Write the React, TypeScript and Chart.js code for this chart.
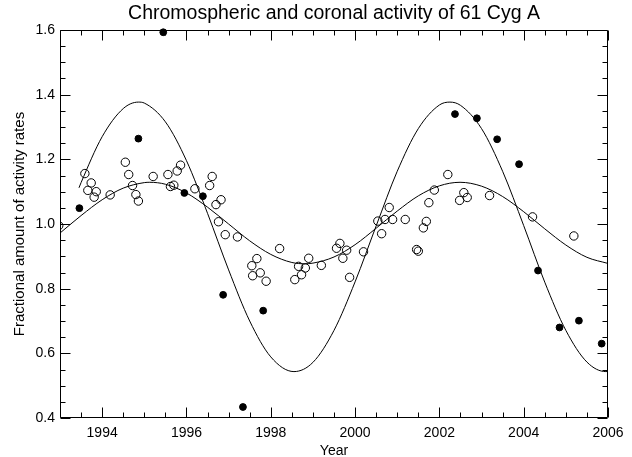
import React, { useEffect, useRef } from 'react';
import { Chart, registerables } from 'chart.js';

Chart.register(...registerables);

// ---- texts ----
const titleText = 'Chromospheric and coronal activity of 61 Cyg A';
const xAxisTitle = 'Year';
const yAxisTitle = 'Fractional amount of activity rates';

// ---- axes ----
const xRange = [1993, 2006];
const yRange = [0.4, 1.6];
const xTickValues = [1994, 1996, 1998, 2000, 2002, 2004, 2006];
const yTickValues = [0.4, 0.6, 0.8, 1.0, 1.2, 1.4, 1.6];
const xMinorStep = 0.5;
const yMinorStep = 0.05;

// ---- open circles (chromospheric data) ----
const openYears = [
  1992.97, 1993.59, 1993.74, 1993.66, 1993.86, 1993.81, 1994.19, 1994.55, 1994.63, 1994.72,
  1994.80, 1994.86, 1995.21, 1995.56, 1995.62, 1995.70, 1995.78, 1995.86, 1996.20, 1996.55,
  1996.61, 1996.70, 1996.82, 1996.76, 1996.92, 1997.21, 1997.55, 1997.57, 1997.67, 1997.75,
  1997.89, 1998.21, 1998.57, 1998.66, 1998.73, 1998.82, 1998.90, 1999.20, 1999.56, 1999.64,
  1999.71, 1999.80, 1999.87, 2000.20, 2000.54, 2000.63, 2000.71, 2000.81, 2000.89, 2001.19,
  2001.46, 2001.50, 2001.62, 2001.69, 2001.75, 2001.88, 2002.20, 2002.48, 2002.58, 2002.66,
  2003.19, 2004.21, 2005.19,
];
const openValues = [
  0.995, 1.156, 1.127, 1.104, 1.100, 1.083, 1.090, 1.191, 1.153, 1.119,
  1.091, 1.071, 1.147, 1.153, 1.116, 1.120, 1.164, 1.182, 1.109, 1.119,
  1.147, 1.060, 1.075, 1.007, 0.967, 0.960, 0.871, 0.840, 0.893, 0.849,
  0.823, 0.924, 0.828, 0.869, 0.843, 0.864, 0.894, 0.872, 0.925, 0.940,
  0.894, 0.919, 0.835, 0.914, 1.009, 0.970, 1.014, 1.051, 1.014, 1.014,
  0.921, 0.916, 0.988, 1.008, 1.066, 1.105, 1.153, 1.073, 1.097, 1.082,
  1.088, 1.022, 0.963,
];

// ---- filled circles (coronal data) ----
const filledYears = [
  1993.46, 1994.86, 1995.45, 1995.95, 1996.39, 1996.87, 1997.34, 1997.82,
  2002.37, 2002.89, 2003.37, 2003.89, 2004.34, 2004.85, 2005.31, 2005.85,
];
const filledValues = [
  1.049, 1.264, 1.593, 1.096, 1.086, 0.781, 0.434, 0.732,
  1.340, 1.327, 1.262, 1.185, 0.856, 0.680, 0.701, 0.630,
];

// ---- large-amplitude fitted cycle ----
const bigFitYears = [
  1993.45, 1993.5, 1994, 1994.5, 1994.86, 1995, 1995.5, 1996, 1996.5, 1997,
  1997.5, 1998, 1998.55, 1999, 1999.5, 2000, 2000.5, 2001, 2001.5, 2002,
  2002.25, 2002.5, 2003, 2003.5, 2004, 2004.5, 2005, 2005.5, 2005.95, 2006,
];
const bigFitValues = [
  1.112, 1.128, 1.270, 1.357, 1.377, 1.374, 1.316, 1.196, 1.033, 0.858,
  0.700, 0.589, 0.5435, 0.572, 0.671, 0.821, 0.994, 1.163, 1.295, 1.368,
  1.377, 1.367, 1.295, 1.163, 0.995, 0.820, 0.671, 0.573, 0.5435, 0.544,
];

// ---- small-amplitude fitted cycle ----
const smallFitYears = [
  1993, 1993.5, 1994, 1994.5, 1995, 1995.13, 1995.5, 1996, 1996.5, 1997,
  1997.5, 1998, 1998.5, 1998.81, 1999, 1999.5, 2000, 2000.5, 2001, 2001.5,
  2002, 2002.49, 2003, 2003.5, 2004, 2004.5, 2005, 2005.5, 2006,
];
const smallFitValues = [
  0.972, 1.026, 1.075, 1.111, 1.128, 1.129, 1.123, 1.096, 1.052, 1.000,
  0.948, 0.906, 0.881, 0.877, 0.879, 0.898, 0.936, 0.987, 1.040, 1.087,
  1.118, 1.129, 1.117, 1.085, 1.038, 0.985, 0.935, 0.897, 0.878,
];

const FONT = "'Liberation Sans', Arial, sans-serif";
const INK = '#000000';

const zip = (xs: number[], ys: number[]) => xs.map((x, i) => ({ x, y: ys[i] }));

// Draws the IDL-style box with inward ticks on all four sides.
const frameTicks = {
  id: 'frameTicks',
  afterDraw(chart: any) {
    const { ctx, chartArea, scales } = chart;
    const xs = scales.x;
    const ys = scales.y;
    const L = Math.round(chartArea.left) + 0.5;
    const R = Math.round(chartArea.right) - 0.5;
    const T = Math.round(chartArea.top) + 0.5;
    const B = Math.round(chartArea.bottom) - 0.5;
    ctx.save();
    ctx.strokeStyle = INK;
    ctx.lineWidth = 1;
    ctx.beginPath();
    ctx.rect(L, T, R - L, B - T);
    ctx.stroke();
    const majorLen = 10;
    const minorLen = 5;
    ctx.beginPath();
    const nx = Math.round((xRange[1] - xRange[0]) / xMinorStep);
    for (let i = 0; i <= nx; i++) {
      const v = xRange[0] + i * xMinorStep;
      const isMajor = xTickValues.some((t) => Math.abs(t - v) < 1e-6);
      const len = isMajor ? majorLen : minorLen;
      const px = Math.round(xs.getPixelForValue(v)) + 0.5;
      ctx.moveTo(px, B);
      ctx.lineTo(px, B - len);
      ctx.moveTo(px, T);
      ctx.lineTo(px, T + len);
    }
    const ny = Math.round((yRange[1] - yRange[0]) / yMinorStep);
    for (let i = 0; i <= ny; i++) {
      const v = yRange[0] + i * yMinorStep;
      const isMajor = yTickValues.some((t) => Math.abs(t - v) < 1e-6);
      const len = isMajor ? majorLen : minorLen;
      const py = Math.round(ys.getPixelForValue(v)) + 0.5;
      ctx.moveTo(L, py);
      ctx.lineTo(L + len, py);
      ctx.moveTo(R, py);
      ctx.lineTo(R - len, py);
    }
    ctx.stroke();
    ctx.restore();
  },
};

export default function App() {
  const canvasRef = useRef<HTMLCanvasElement>(null);

  useEffect(() => {
    document.body.style.margin = '0';
    const canvas = canvasRef.current;
    if (!canvas) return;
    const chart = new Chart(canvas, {
      type: 'scatter',
      data: {
        datasets: [
          {
            label: 'Coronal cycle fit',
            data: zip(bigFitYears, bigFitValues),
            showLine: true,
            borderColor: INK,
            borderWidth: 1,
            pointRadius: 0,
            cubicInterpolationMode: 'monotone',
            fill: false,
          },
          {
            label: 'Chromospheric cycle fit',
            data: zip(smallFitYears, smallFitValues),
            showLine: true,
            borderColor: INK,
            borderWidth: 1,
            pointRadius: 0,
            cubicInterpolationMode: 'monotone',
            fill: false,
          },
          {
            label: 'Chromospheric activity',
            data: zip(openYears, openValues),
            showLine: false,
            pointStyle: 'circle',
            pointRadius: 4.2,
            pointBorderWidth: 1,
            pointBorderColor: INK,
            pointBackgroundColor: 'rgba(0,0,0,0)',
            borderColor: INK,
            backgroundColor: 'rgba(0,0,0,0)',
          },
          {
            label: 'Coronal activity',
            data: zip(filledYears, filledValues),
            showLine: false,
            pointStyle: 'circle',
            pointRadius: 3.4,
            pointBorderWidth: 1,
            pointBorderColor: INK,
            pointBackgroundColor: INK,
            borderColor: INK,
            backgroundColor: INK,
            clip: false,
          },
        ],
      } as any,
      options: {
        responsive: false,
        animation: false,
        events: [],
        layout: { padding: { left: 0, right: 24, top: 0, bottom: 0 } },
        plugins: {
          legend: { display: false },
          tooltip: { enabled: false },
          title: {
            display: true,
            fullSize: false,
            text: titleText,
            color: INK,
            font: { family: FONT, size: 19.5, weight: 'normal', lineHeight: 1.2 },
            padding: { top: 2.3, bottom: 4.3 },
          },
        },
        scales: {
          x: {
            type: 'linear',
            min: xRange[0],
            max: xRange[1],
            afterBuildTicks: (s: any) => {
              s.ticks = xTickValues.map((v) => ({ value: v }));
            },
            afterFit: (s: any) => {
              s.height = 39;
            },
            grid: { display: false, drawTicks: false },
            border: { display: false },
            ticks: {
              color: INK,
              font: { family: FONT, size: 14 },
              padding: 7,
              maxRotation: 0,
              autoSkip: false,
              callback: (v: any) => String(v),
            },
            title: {
              display: true,
              text: xAxisTitle,
              color: INK,
              font: { family: FONT, size: 14, lineHeight: 1 },
              padding: { top: 0, bottom: -1 },
            },
          },
          y: {
            type: 'linear',
            min: yRange[0],
            max: yRange[1],
            afterBuildTicks: (s: any) => {
              s.ticks = yTickValues.map((v) => ({ value: v }));
            },
            afterFit: (s: any) => {
              s.width = 60;
            },
            grid: { display: false, drawTicks: false },
            border: { display: false },
            ticks: {
              color: INK,
              font: { family: FONT, size: 14 },
              padding: 5,
              autoSkip: false,
              callback: (v: any) => Number(v).toFixed(1),
            },
            title: {
              display: true,
              text: yAxisTitle,
              color: INK,
              font: { family: FONT, size: 15, lineHeight: 1.2 },
              padding: { top: 11, bottom: 0 },
            },
          },
        },
      } as any,
      plugins: [frameTicks],
    });
    return () => chart.destroy();
  }, []);

  return (
    <div style={{ position: 'absolute', left: 0, top: 0, width: 632, height: 457, background: '#fff' }}>
      <canvas ref={canvasRef} width={632} height={457} />
    </div>
  );
}
